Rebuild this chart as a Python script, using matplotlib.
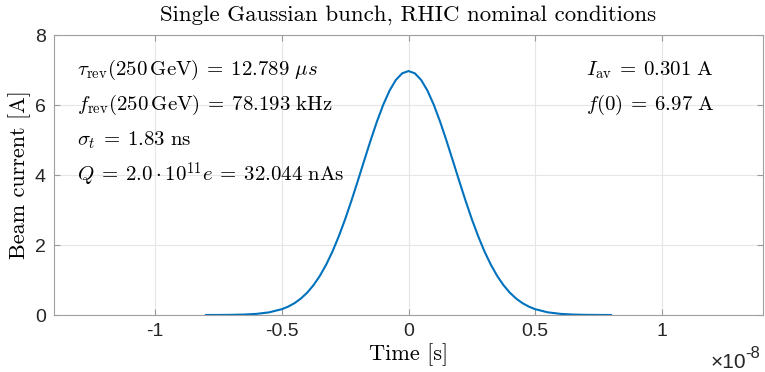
import numpy as np
import matplotlib
matplotlib.use('Agg')
import matplotlib.pyplot as plt

# bunch profile (time in ns, current in A)
t_ns = [-8.0, -7.5, -7.0, -6.5, -6.0, -5.5, -5.0, -4.75, -4.5, -4.25, -4.0, -3.75,
        -3.5, -3.25, -3.0, -2.75, -2.5, -2.25, -2.0, -1.75, -1.5, -1.25, -1.0,
        -0.75, -0.5, -0.25, 0.0, 0.25, 0.5, 0.75, 1.0, 1.25, 1.5, 1.75, 2.0,
        2.25, 2.5, 2.75, 3.0, 3.25, 3.5, 3.75, 4.0, 4.25, 4.5, 4.75, 5.0, 5.5,
        6.0, 6.5, 7.0, 7.5, 8.0]
current = [0.0005, 0.0016, 0.0046, 0.0127, 0.0323, 0.0762, 0.167, 0.240, 0.339,
           0.470, 0.639, 0.854, 1.119, 1.440, 1.818, 2.254, 2.741, 3.273, 3.836,
           4.412, 4.981, 5.520, 6.003, 6.409, 6.715, 6.905, 6.97, 6.905, 6.715,
           6.409, 6.003, 5.520, 4.981, 4.412, 3.836, 3.273, 2.741, 2.254, 1.818,
           1.440, 1.119, 0.854, 0.639, 0.470, 0.339, 0.240, 0.167, 0.0762,
           0.0323, 0.0127, 0.0046, 0.0016, 0.0005]

x_ticks = [-1e-8, -0.5e-8, 0, 0.5e-8, 1e-8]
x_tick_labels = ['-1', '-0.5', '0', '0.5', '1']
y_ticks = [0, 2, 4, 6, 8]

left_notes = [r'$\tau_{\rm rev}(250\,{\rm GeV})\:=\:12.789\ \mu s$',
              r'$f_{\rm rev}(250\,{\rm GeV})\:=\:78.193\ {\rm kHz}$',
              r'$\sigma_t\:=\:1.83\ {\rm ns}$',
              r'$Q\:=\:2.0\cdot 10^{11}e\:=\:32.044\ {\rm nAs}$']
right_notes = [r'$I_{\rm av}\:=\:0.301\ {\rm A}$',
               r'$f(0)\:=\:6.97\ {\rm A}$']

plt.rcParams['mathtext.fontset'] = 'cm'
plt.rcParams['font.family'] = ['Liberation Sans', 'DejaVu Sans']

fig = plt.figure(figsize=(7.65, 3.72), dpi=100)
ax = fig.add_axes([54 / 765, 1 - 315 / 372, (763 - 54) / 765, (315 - 35) / 372])

t = np.array(t_ns) * 1e-9
ax.plot(t, current, color='#0072BD', lw=1.5)

ax.set_xlim(-1.4e-8, 1.4e-8)
ax.set_ylim(0, 8)
ax.set_xticks(x_ticks)
ax.set_xticklabels(x_tick_labels)
ax.set_yticks(y_ticks)
ax.grid(True, color='#e6e6e6', lw=0.8)
ax.set_axisbelow(True)
ax.tick_params(direction='in', length=4, width=0.8, color='#999999',
               labelsize=14, labelcolor='#262626', top=True, right=True, pad=6)
for s in ax.spines.values():
    s.set_color('#a0a0a0')
    s.set_linewidth(0.8)

fig.text(0.5 * (54 + 763) / 765, 1 - 15 / 372,
         'Single Gaussian bunch, RHIC nominal conditions',
         fontfamily='cmr10', fontsize=16.5, ha='center', va='center')
fig.text(409 / 765, 1 - 355 / 372, 'Time [s]', fontfamily='cmr10', fontsize=16,
         ha='center', va='center')
fig.text(20 / 765, 1 - 175 / 372, 'Beam current [A]', fontfamily='cmr10',
         fontsize=16, ha='center', va='center', rotation=90)
fig.text(711 / 765, 1 - 363 / 372, '×10', fontsize=15, color='#262626',
         ha='left', va='center')
fig.text(745 / 765, 1 - 354 / 372, '-8', fontsize=12, color='#262626',
         ha='left', va='center')

for i, s in enumerate(left_notes):
    ax.text(-1.31e-8, 7 - i, s, fontsize=15, va='center', ha='left')
for i, s in enumerate(right_notes):
    ax.text(0.70e-8, 7 - i, s, fontsize=15, va='center', ha='left')

fig.savefig('out.png', dpi=100)
